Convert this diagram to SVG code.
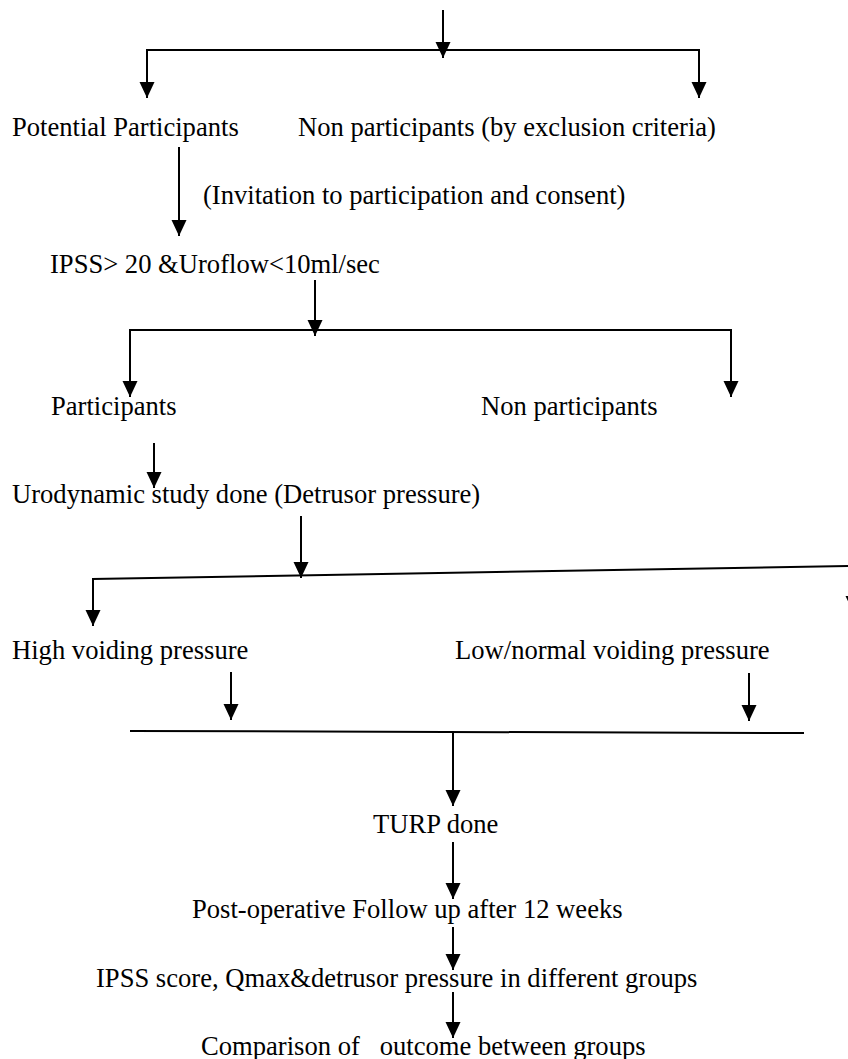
<svg xmlns="http://www.w3.org/2000/svg" width="848" height="1059" viewBox="0 0 848 1059">
<style>
text{font-family:"Liberation Serif","Times New Roman",serif;font-size:26.6px;fill:#000;white-space:pre}
.c line,.c polyline{stroke:#000;stroke-width:2;fill:none}
.a{marker-end:url(#ah)}
</style>
<defs>
<marker id="ah" markerUnits="userSpaceOnUse" markerWidth="16" markerHeight="16" refX="16" refY="7.5" orient="auto" viewBox="0 0 16 15">
<path d="M0,0 L16,7.5 L0,15 Z" fill="#000"/>
</marker>
</defs>
<rect width="848" height="1059" fill="#fff"/>
<g class="c" id="connectors">
<line class="a" x1="443" y1="10" x2="443" y2="58"/>
<line x1="146" y1="50" x2="700" y2="50"/>
<line class="a" x1="147" y1="50" x2="147" y2="98"/>
<line class="a" x1="699" y1="50" x2="699" y2="98"/>
<line class="a" x1="179" y1="147" x2="179" y2="236"/>
<line class="a" x1="315" y1="280" x2="315" y2="336"/>
<line x1="129" y1="330" x2="732" y2="330"/>
<line class="a" x1="130" y1="330" x2="130" y2="397"/>
<line class="a" x1="731" y1="330" x2="731" y2="397"/>
<line class="a" x1="154" y1="443" x2="154" y2="488"/>
<line class="a" x1="301" y1="516" x2="301" y2="578"/>
<line x1="92" y1="579" x2="860" y2="565.8"/>
<line class="a" x1="93" y1="579" x2="93" y2="626"/>
<line class="a" x1="853" y1="566" x2="853" y2="612"/>
<line class="a" x1="231" y1="672" x2="231" y2="720"/>
<line class="a" x1="749" y1="673" x2="749" y2="721"/>
<line x1="130" y1="731" x2="804" y2="733"/>
<line class="a" x1="453" y1="732" x2="453" y2="806"/>
<line class="a" x1="453" y1="842" x2="453" y2="899"/>
<line class="a" x1="453" y1="927" x2="453" y2="970"/>
<line class="a" x1="453" y1="992" x2="453" y2="1038"/>
</g>
<g id="n1"><text x="12" y="136">Potential Participants</text></g>
<g id="n2"><text x="298" y="136">Non participants (by exclusion criteria)</text></g>
<g id="n3"><text x="203" y="204">(Invitation to participation and consent)</text></g>
<g id="n4"><text x="50" y="273">IPSS&gt; 20 &amp;Uroflow&lt;10ml/sec</text></g>
<g id="n5"><text x="51" y="415">Participants</text></g>
<g id="n6"><text x="481" y="415">Non participants</text></g>
<g id="n7"><text x="12" y="503">Urodynamic study done (Detrusor pressure)</text></g>
<g id="n8"><text x="12" y="659">High voiding pressure</text></g>
<g id="n9"><text x="455" y="659">Low/normal voiding pressure</text></g>
<g id="n10"><text x="373" y="833">TURP done</text></g>
<g id="n11"><text x="192" y="918">Post-operative Follow up after 12 weeks</text></g>
<g id="n12"><text x="96" y="987">IPSS score, Qmax&amp;detrusor pressure in different groups</text></g>
<g id="n13"><text x="201" y="1055">Comparison of   outcome between groups</text></g>
</svg>
